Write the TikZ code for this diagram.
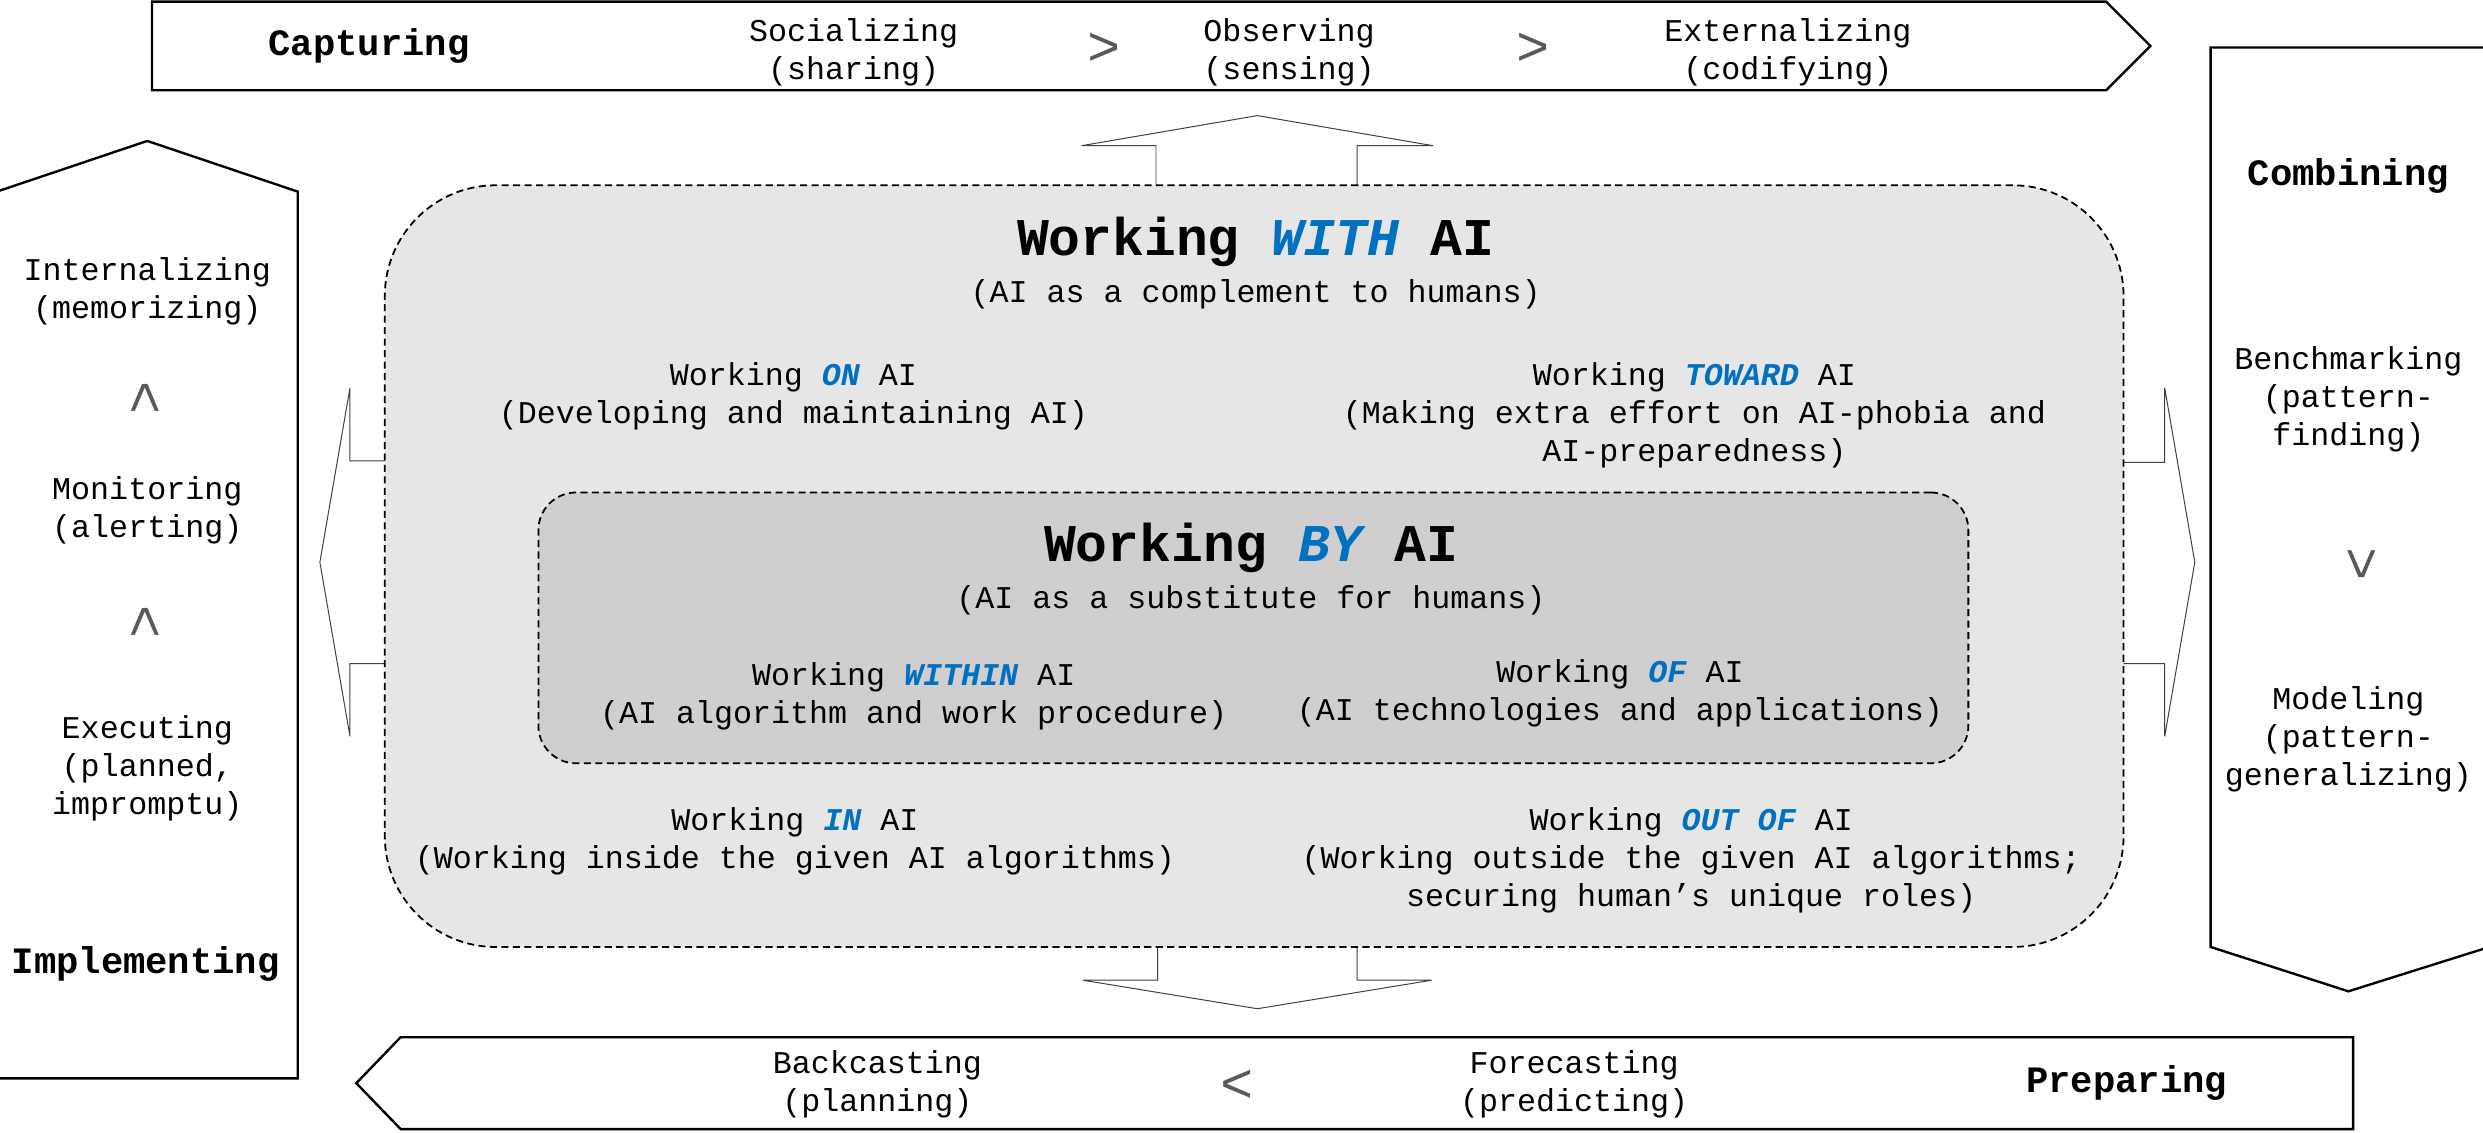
\documentclass[tikz,border=0pt]{standalone}
\usepackage{fontspec}
\setmainfont{Liberation Mono}
\definecolor{aiblue}{HTML}{0070C0}
\definecolor{outerfill}{HTML}{E7E6E6}
\definecolor{innerfill}{HTML}{D0CECE}
\newcommand{\hlw}[1]{{\color{aiblue}\bfseries\itshape #1}}
\begin{document}
\begin{tikzpicture}[x=0.8pt,y=-0.8pt,
  banner/.style={draw=black, line width=1.2pt, fill=white},
  blockarrow/.style={draw=black!75, line width=0.5pt, fill=white},
  dashbox/.style={draw=black, line width=0.9pt, dash pattern=on 3.6pt off 2.2pt},
  txt/.style={font=\fontsize{16}{19.2}\selectfont, align=center, inner sep=0pt},
  lbl/.style={font=\fontsize{18.8}{22}\selectfont\bfseries, inner sep=0pt},
  ttl/.style={font=\fontsize{26.8}{30}\selectfont\bfseries, inner sep=0pt},
  chev/.style={font=\fontsize{28}{28}\selectfont, text=black!65, inner sep=0pt}
]
\useasboundingbox (0,0) rectangle (1568,715);

% outer process shapes
\draw[banner] (96,1) -- (1330,1) -- (1358,29) -- (1330,57) -- (96,57) -- cycle;
\draw[banner] (-2,121) -- (93,89) -- (188,121) -- (188,681) -- (-2,681) -- cycle;
\draw[banner] (1396,30) -- (1572,30) -- (1572,598) -- (1483,626) -- (1396,598) -- cycle;
\draw[banner] (253,655) -- (1486,655) -- (1486,713) -- (253,713) -- (225,684) -- cycle;

% block arrows
\draw[blockarrow] (730,130) -- (730,92) -- (683,92) -- (794,73) -- (905,92) -- (857,92) -- (857,130);
\draw[blockarrow] (731,585) -- (731,619) -- (684,619) -- (794,637) -- (904,619) -- (857,619) -- (857,585);
\draw[blockarrow] (258,291) -- (221,291) -- (221,245) -- (202,355) -- (221,465) -- (221,419) -- (258,419);
\draw[blockarrow] (1328,292) -- (1367,292) -- (1367,245) -- (1386,355) -- (1367,465) -- (1367,419) -- (1328,419);

% containers
\node[dashbox, fill=outerfill, rounded corners=56pt, minimum width=878.4pt, minimum height=384.8pt, inner sep=0pt] (withbox) at (792,357.5) {};
\node[dashbox, fill=innerfill, rounded corners=19pt, minimum width=722.4pt, minimum height=136.8pt, inner sep=0pt] (bybox) at (791.5,396.5) {};

% top banner
\node[lbl] (capt) at (233,29) {Capturing};
\node[txt] (soc) at (539,33) {Socializing\\(sharing)};
\node[chev] (c1) at (697,31) {>};
\node[txt] (obs) at (814,33) {Observing\\(sensing)};
\node[chev] (c2) at (968,31) {>};
\node[txt] (ext) at (1129,33) {Externalizing\\(codifying)};

% left panel
\node[txt] (intl) at (93,184) {Internalizing\\(memorizing)};
\node[chev, rotate=90] (c3) at (93,251) {>};
\node[txt] (mon) at (93,322) {Monitoring\\(alerting)};
\node[chev, rotate=90] (c4) at (93,393) {>};
\node[txt] (exe) at (93,485) {Executing\\(planned,\\impromptu)};
\node[lbl] (impl) at (92,609) {Implementing};

% right panel
\node[lbl] (comb) at (1483,111) {Combining};
\node[txt] (bench) at (1483,252) {Benchmarking\\(pattern-\\finding)};
\node[chev, rotate=-90] (c5) at (1490,356) {>};
\node[txt] (model) at (1483,467) {Modeling\\(pattern-\\generalizing)};

% bottom banner
\node[txt] (back) at (554,685) {Backcasting\\(planning)};
\node[chev] (c6) at (781,686) {<};
\node[txt] (fore) at (994,685) {Forecasting\\(predicting)};
\node[lbl] (prep) at (1343,684) {Preparing};

% working with
\node[ttl] (withT) at (793,153) {Working \hlw{WITH} AI};
\node[txt] (withS) at (793,186) {(AI as a complement to humans)};
\node[txt] (on) at (501,250) {Working \hlw{ON} AI\\(Developing and maintaining AI)};
\node[txt] (toward) at (1070,262) {Working \hlw{TOWARD} AI\\(Making extra effort on AI-phobia and\\AI-preparedness)};

% working by
\node[ttl] (byT) at (790,346) {Working \hlw{BY} AI};
\node[txt] (byS) at (790,379) {(AI as a substitute for humans)};
\node[txt] (within) at (577,440) {Working \hlw{WITHIN} AI\\(AI algorithm and work procedure)};
\node[txt] (of) at (1023,438) {Working \hlw{OF} AI\\(AI technologies and applications)};

% in / out of
\node[txt] (in) at (502,531) {Working \hlw{IN} AI\\(Working inside the given AI algorithms)};
\node[txt] (outof) at (1068,543) {Working \hlw{OUT OF} AI\\(Working outside the given AI algorithms;\\securing human’s unique roles)};
\end{tikzpicture}
\end{document}
